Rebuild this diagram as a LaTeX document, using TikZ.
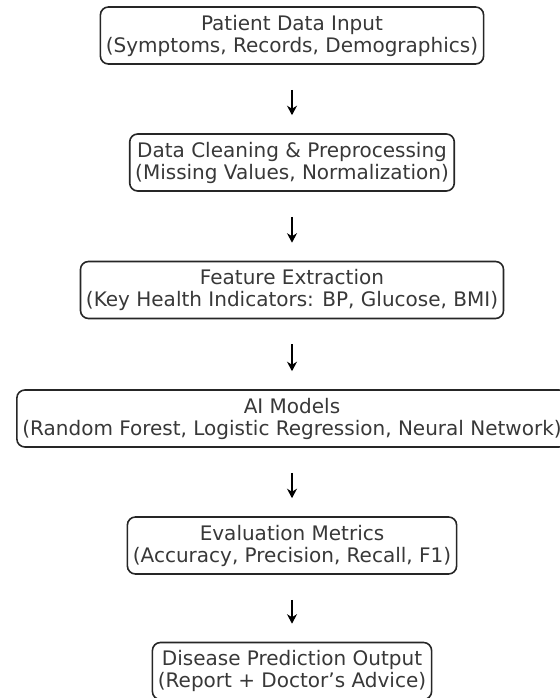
\documentclass[tikz,border=0pt]{standalone}
\usepackage{fontspec}
\setmainfont{DejaVu Sans}
\usetikzlibrary{positioning,arrows.meta}

\tikzset{
	stage/.style={draw=black!85, line width=1.6pt, rounded corners=8pt, align=center,
		text=black!78, font=\fontsize{20}{22}\selectfont, inner xsep=5.5pt,
		minimum height=57pt, fill=white},
	flow/.style={-{Stealth[length=9.5pt,width=10pt]}, line width=1.7pt, black,
		shorten <=25pt, shorten >=18pt}
}

\begin{document}
\begin{tikzpicture}
	\useasboundingbox (0,0) rectangle (559pt,698pt);

	% pipeline stages
	\node[stage] (input) at (292pt,662.5pt) {Patient Data Input\\(Symptoms, Records, Demographics)};
	\node[stage] (clean) at (292pt,535.5pt) {Data Cleaning \& Preprocessing\\(Missing Values, Normalization)};
	\node[stage] (feature) at (292pt,408pt) {Feature Extraction\\(Key Health Indicators: BP, Glucose, BMI)};
	\node[stage] (models) at (292pt,279.5pt) {AI Models\\(Random Forest, Logistic Regression, Neural Network)};
	\node[stage] (metrics) at (292pt,152.5pt) {Evaluation Metrics\\(Accuracy, Precision, Recall, F1)};
	\node[stage] (output) at (292pt,27pt) {Disease Prediction Output\\(Report + Doctor’s Advice)};

	% arrows
	\foreach \a/\b in {input/clean, clean/feature, feature/models, models/metrics, metrics/output}
		\draw[flow] (\a) -- (\b);
\end{tikzpicture}
\end{document}
